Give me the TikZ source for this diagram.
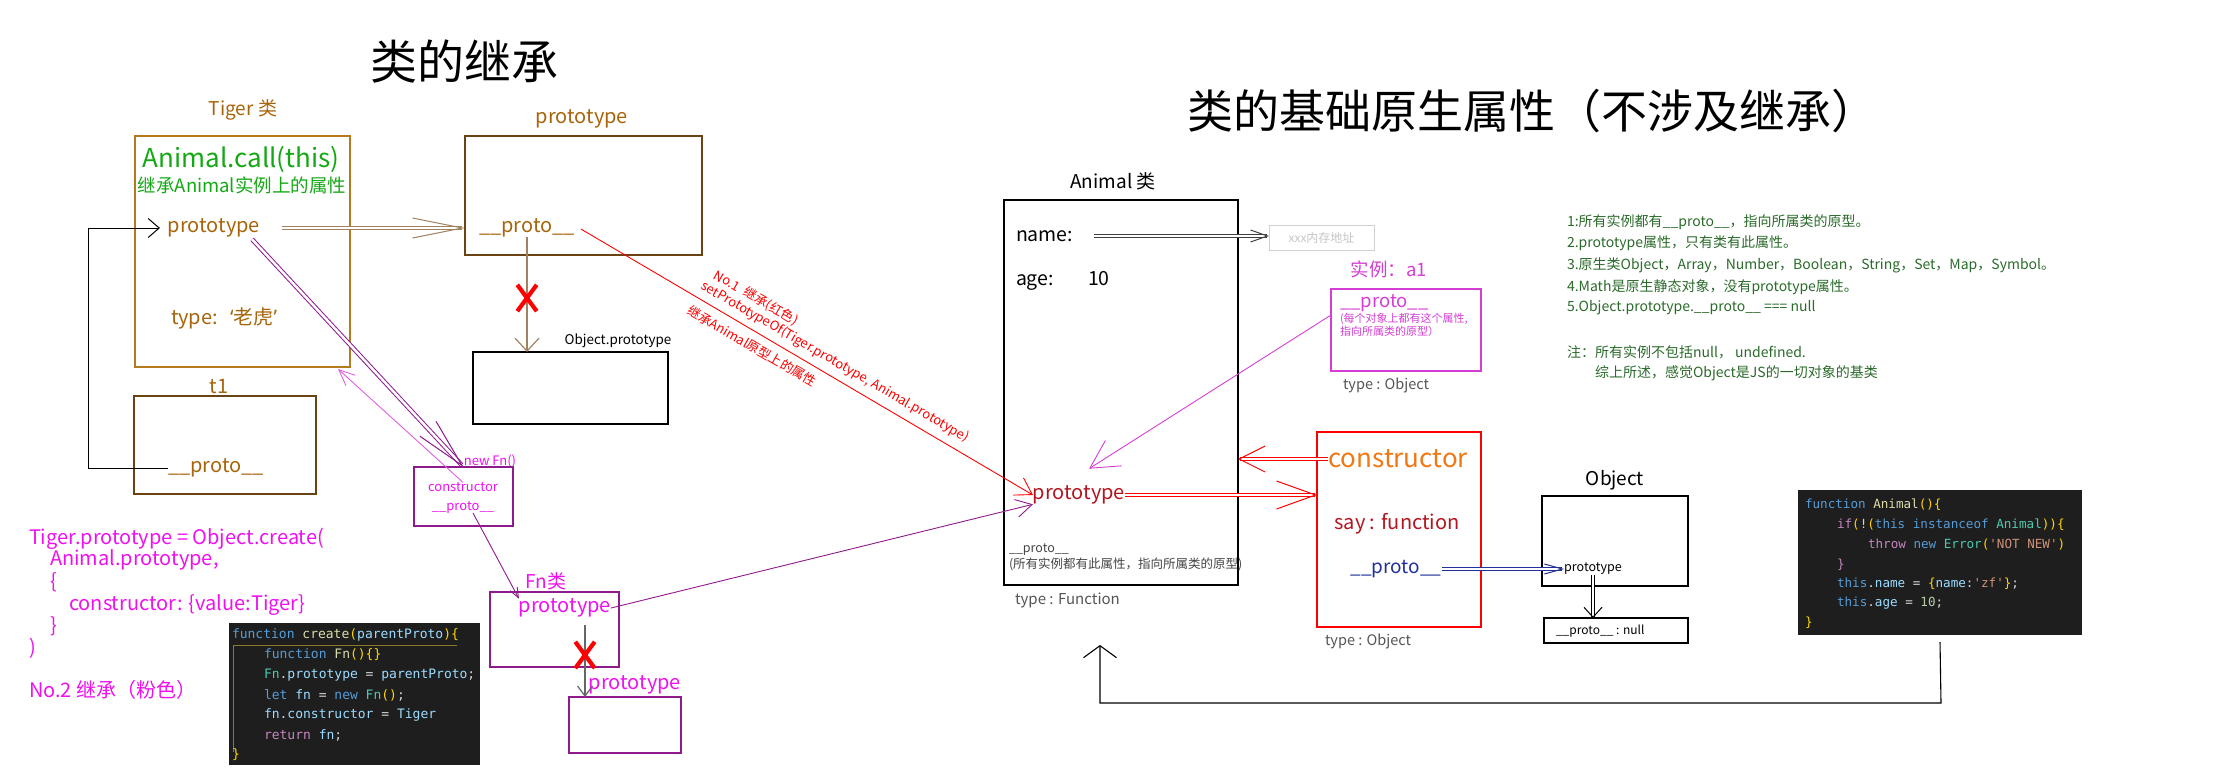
\documentclass[tikz,border=0pt]{standalone}
\usepackage{fontspec}
\setmainfont{Noto Sans CJK SC}
\setmonofont{DejaVu Sans Mono}
\newfontfamily\westfont{Noto Sans}
\usetikzlibrary{arrows.meta,positioning,calc}

\newcommand{\pxsize}[1]{\fontsize{#1}{#1}\selectfont}

\definecolor{tigerbrown}{HTML}{A8640A}
\definecolor{tigerline}{HTML}{B57A1E}
\definecolor{darkbrown}{HTML}{6B4212}
\definecolor{arrowbrown}{HTML}{A08260}
\definecolor{callgreen}{HTML}{14A814}
\definecolor{pinkfn}{HTML}{EE11EE}
\definecolor{fnline}{HTML}{8E1A8E}
\definecolor{pinkline}{HTML}{E060E0}
\definecolor{a1pink}{HTML}{D43ED4}
\definecolor{protored}{HTML}{B4141E}
\definecolor{consorange}{HTML}{F07814}
\definecolor{protoblue}{HTML}{22309C}
\definecolor{notegreen}{HTML}{2A6A2A}
\definecolor{typegray}{HTML}{555555}
\definecolor{notegray}{HTML}{444444}
\definecolor{addrgray}{HTML}{D0D0D0}
\definecolor{addrtext}{HTML}{C4C4C4}
\definecolor{namegray}{HTML}{404040}
\definecolor{stemgray}{HTML}{666666}
\definecolor{codebg}{HTML}{1E1E1E}
\definecolor{codeplain}{HTML}{D4D4D4}
\definecolor{kwblue}{HTML}{569CD6}
\definecolor{fnyellow}{HTML}{DCDCAA}
\definecolor{brgold}{HTML}{FFD700}
\definecolor{varblue}{HTML}{9CDCFE}
\definecolor{typeteal}{HTML}{4EC9B0}
\definecolor{kwpurple}{HTML}{C586C0}
\definecolor{numgreen}{HTML}{B5CEA8}
\definecolor{strorange}{HTML}{CE9178}
\definecolor{guidegold}{HTML}{8A7A2A}

\newcommand{\ckw}[1]{\textcolor{kwblue}{#1}}
\newcommand{\cfn}[1]{\textcolor{fnyellow}{#1}}
\newcommand{\cbr}[1]{\textcolor{brgold}{#1}}
\newcommand{\cvar}[1]{\textcolor{varblue}{#1}}
\newcommand{\cty}[1]{\textcolor{typeteal}{#1}}
\newcommand{\cpu}[1]{\textcolor{kwpurple}{#1}}
\newcommand{\cnum}[1]{\textcolor{numgreen}{#1}}
\newcommand{\cstr}[1]{\textcolor{strorange}{#1}}

\tikzset{
  box/.style={draw, anchor=north west, inner sep=0pt, outer sep=0pt, line width=1.1pt},
  txt/.style={inner sep=0pt, outer sep=0pt, font=\pxsize{20}},
  notetxt/.style={txt, anchor=west, text=notegreen, font=\pxsize{14}},
  codeline/.style={txt, anchor=west, text=codeplain, font=\ttfamily\pxsize{13}},
  redtxt/.style={txt, text=red, font=\pxsize{13}, rotate=-30},
  bigx/.style={inner sep=0pt, minimum width=19pt, minimum height=26pt},
  xstroke/.style={red, line width=4.2pt},
  dbl/.style={double, double distance=2.5pt, line width=1pt},
  barb/.style 2 args={-{Straight Barb[length=#1, width=#2]}},
}

\begin{document}
\begin{tikzpicture}[x=1pt,y=-1pt]
\useasboundingbox (0,0) rectangle (2216,768);

% titles
\node[txt, font=\pxsize{47}] (title1) at (464,62) {类的继承};
\node[txt, font=\pxsize{46}] (title2) at (1532,111) {类的基础原生属性（不涉及继承）};

% Tiger class and t1
\node[txt, text=tigerbrown, font=\pxsize{19}] (tigerlbl) at (243,110) {Tiger 类};
\node[box, draw=tigerline, minimum width=215pt, minimum height=231pt] (tiger) at (135,136) {};
\node[txt, text=callgreen, font=\pxsize{26}] (call) at (241,159) {Animal.call(this)};
\node[txt, text=callgreen, font=\pxsize{18.5}] (callnote) at (242,185) {继承Animal实例上的属性};
\node[txt, text=tigerbrown] (tproto) at (214,228) {prototype};
\node[txt, text=tigerbrown] (ttype) at (224,318) {type:\hspace{12pt}{\westfont ‘}老虎{\westfont ’}};
\node[txt, text=tigerbrown] (t1lbl) at (219,386) {t1};
\node[box, draw=darkbrown, minimum width=182pt, minimum height=98pt] (t1) at (134,396) {};
\node[txt, text=tigerbrown] (t1proto) at (216,468) {\_\_proto\_\_};

% Tiger.prototype
\node[txt, text=tigerbrown] (protolbl) at (582,119) {prototype};
\node[box, draw=darkbrown, minimum width=237pt, minimum height=119pt] (proto) at (465,136) {};
\node[txt, text=tigerbrown] (pproto) at (527,228) {\_\_proto\_\_};
\node[txt, font=\pxsize{13.4}] (objplbl) at (618,341) {Object.prototype};
\node[box, minimum width=195pt, minimum height=72pt] (objp) at (473,352) {};

% new Fn() and Fn
\node[txt, text=pinkfn, font=\pxsize{13}] (newfnlbl) at (490,461) {new Fn()};
\node[box, draw=fnline, minimum width=99pt, minimum height=59pt] (newfn) at (414,467) {};
\node[txt, text=pinkfn, font=\pxsize{13}] (cons) at (463,487) {constructor};
\node[txt, text=pinkfn, font=\pxsize{13}] (nproto) at (463,507) {\_\_proto\_\_};
\node[txt, text=pinkfn, font=\pxsize{19}] (fnlbl) at (546,581) {Fn类};
\node[box, draw=fnline, minimum width=129pt, minimum height=75pt] (fn) at (490,592) {};
\node[txt, text=pinkfn] (fproto) at (565,608) {prototype};
\node[txt, text=pinkfn] (lowlbl) at (635,685) {prototype};
\node[box, draw=fnline, minimum width=112pt, minimum height=56pt] (low) at (569,697) {};
\coordinate (fnstem) at (585,625);

% Object.create text
\node[txt, anchor=west, text=pinkfn] (cr1) at (29,539) {Tiger.prototype = Object.create(};
\node[txt, anchor=west, text=pinkfn] (cr2) at (50,560) {Animal.prototype,};
\node[txt, anchor=west, text=pinkfn] (cr3) at (50,582) {\{};
\node[txt, anchor=west, text=pinkfn] (cr4) at (69,605) {constructor: \{value:Tiger\}};
\node[txt, anchor=west, text=pinkfn] (cr5) at (50,626) {\}};
\node[txt, anchor=west, text=pinkfn] (cr6) at (29,648) {)};
\node[txt, anchor=west, text=pinkfn] (no2) at (29,690) {No.2 继承（粉色）};

% create() code
\node[box, draw=none, fill=codebg, minimum width=251pt, minimum height=142pt] (codeleft) at (229,623) {};
\draw[guidegold, line width=0.8pt] (233,752) -- (233,645) -- (457,645);
\node[codeline] (cl1) at (232,635) {\ckw{function} \cfn{create}\cbr{(}\cvar{parentProto}\cbr{)\{}};
\node[codeline] (cl2) at (264,655) {\ckw{function} \cfn{Fn}\cbr{()\{\}}};
\node[codeline] (cl3) at (264,675) {\cty{Fn}.\cvar{prototype} = \cvar{parentProto};};
\node[codeline] (cl4) at (264,695) {\ckw{let} \cvar{fn} = \ckw{new} \cty{Fn}\cbr{()};};
\node[codeline] (cl5) at (264,715) {\cvar{fn}.\cvar{constructor} = \cvar{Tiger}};
\node[codeline] (cl6) at (264,735) {\cpu{return} \cvar{fn};};
\node[codeline] (cl7) at (232,755) {\cbr{\}}};

% red No.1 text
\node[redtxt] (no1) at (756,298) {No.1\ \ 继承(红色)};
\node[redtxt] (setp) at (835,362) {setPrototypeOf(Tiger.prototype, Animal.prototype)};
\node[redtxt] (no1note) at (752,346) {继承Animal原型上的属性};

% Animal class
\node[txt, font=\pxsize{19}] (animallbl) at (1113,181) {Animal 类};
\node[box, minimum width=234pt, minimum height=385pt] (animal) at (1004,200) {};
\node[txt, anchor=west, font=\pxsize{19.5}] (name) at (1016,236) {name:};
\node[box, draw=addrgray, line width=0.8pt, minimum width=105pt, minimum height=25pt] (addr) at (1269,225) {};
\node[txt, text=addrtext, font=\pxsize{12}] (addrtxt) at (addr.center) {xxx内存地址};
\node[txt, anchor=base west, font=\pxsize{19.5}] (age) at (1016,285) {age:};
\node[txt, anchor=base west, font=\pxsize{19.5}] (agev) at (1088,285) {10};
\node[txt, text=protored] (aproto) at (1079,495) {prototype};
\node[txt, anchor=west, text=notegray, font=\pxsize{12.5}] (anote1) at (1009,550) {\_\_proto\_\_};
\node[txt, anchor=west, text=notegray, font=\pxsize{12.5}] (anote2) at (1009,564) {(所有实例都有此属性，指向所属类的原型)};
\node[txt, anchor=west, text=typegray, font=\pxsize{15}] (atype) at (1015,600) {type : Function};

% instance a1
\node[txt, text=a1pink, font=\pxsize{18.5}] (a1lbl) at (1389,269) {实例：a1};
\node[box, draw=a1pink, minimum width=150pt, minimum height=82pt] (a1) at (1331,289) {};
\node[txt, anchor=west, text=a1pink, font=\pxsize{18.5}] (a1proto) at (1340,303) {\_\_proto\_\_};
\node[txt, anchor=west, text=a1pink, font=\pxsize{11}] (a1note1) at (1340,318.5) {(每个对象上都有这个属性,};
\node[txt, anchor=west, text=a1pink, font=\pxsize{11}] (a1note2) at (1340,331.5) {指向所属类的原型）};
\node[txt, anchor=west, text=typegray, font=\pxsize{14.5}] (a1type) at (1343,385) {type : Object};

% Animal.prototype
\node[box, draw=red, minimum width=164pt, minimum height=195pt] (consbox) at (1317,432) {};
\node[txt, text=consorange, font=\pxsize{26}] (constxt) at (1398,459) {constructor};
\node[txt, text=protored] (say) at (1397,524) {say : function};
\node[txt, text=protoblue, font=\pxsize{19}] (cproto) at (1396,569) {\_\_proto\_\_};
\node[txt, anchor=west, text=typegray, font=\pxsize{14.5}] (ctype) at (1325,641) {type : Object};

% Object
\node[txt, font=\pxsize{19}] (objlbl) at (1615,480) {Object};
\node[box, minimum width=146pt, minimum height=90pt] (obj) at (1542,496) {};
\node[txt, font=\pxsize{12.5}] (oproto) at (1593,569) {prototype};
\node[box, minimum width=144pt, minimum height=25pt] (nullbox) at (1544,618) {};
\node[txt, anchor=west, font=\pxsize{12}] (nulltxt) at (1556,631) {\_\_proto\_\_ : null};

% Animal() code
\node[box, draw=none, fill=codebg, minimum width=284pt, minimum height=145pt] (coderight) at (1798,490) {};
\node[codeline, font=\ttfamily\pxsize{12.6}] (ar1) at (1805,505) {\ckw{function} \cfn{Animal}\cbr{()\{}};
\node[codeline, font=\ttfamily\pxsize{12.6}] (ar2) at (1837,525) {\cpu{if}\cbr{(}!\cbr{(}\ckw{this} \ckw{instanceof} \cty{Animal}\cbr{))\{}};
\node[codeline, font=\ttfamily\pxsize{12.6}] (ar3) at (1868,545) {\cpu{throw} \ckw{new} \cty{Error}\cbr{(}\cstr{'NOT NEW'}\cbr{)}};
\node[codeline, font=\ttfamily\pxsize{12.6}] (ar4) at (1837,565) {\cpu{\}}};
\node[codeline, font=\ttfamily\pxsize{12.6}] (ar5) at (1837,584) {\ckw{this}.\cvar{name} = \cbr{\{}\cvar{name}:\cstr{'zf'}\cbr{\}};};
\node[codeline, font=\ttfamily\pxsize{12.6}] (ar6) at (1837,603) {\ckw{this}.\cvar{age} = \cnum{10};};
\node[codeline, font=\ttfamily\pxsize{12.6}] (ar7) at (1805,623) {\cbr{\}}};

% notes
\node[notetxt] (n1) at (1567,222) {1:所有实例都有\_\_proto\_\_，指向所属类的原型。};
\node[notetxt] (n2) at (1567,243) {2.prototype属性，只有类有此属性。};
\node[notetxt] (n3) at (1567,265) {3.原生类Object，Array，Number，Boolean，String，Set，Map，Symbol。};
\node[notetxt] (n4) at (1567,287) {4.Math是原生静态对象，没有prototype属性。};
\node[notetxt] (n5) at (1567,308) {5.Object.prototype.\_\_proto\_\_ === null};
\node[notetxt] (n6) at (1567,352) {注：所有实例不包括null， undefined.};
\node[notetxt] (n7) at (1595,373) {综上所述，感觉Object是JS的一切对象的基类};

% connectors
\coordinate (loopx) at (88,0);
\draw[line width=1pt, barb={11pt}{19pt}, shorten >=8pt] (t1proto.west) -- (t1proto.west -| loopx) |- (tproto.west);
\draw[dbl, arrowbrown, barb={50pt}{20pt}, shorten <=22pt] (tproto.east) -- (tproto.east -| proto.west);
\draw[dbl, fnline, barb={50pt}{22pt}] ($(tproto.south east)+(-8,2)$) -- (newfn.north);
\draw[pinkline, line width=0.9pt, barb={16pt}{14pt}] (cons.north) -- ($(tiger.south east)+(-12,2)$);
\draw[fnline, line width=0.9pt, barb={10pt}{8pt}] ($(nproto.south)+(10,0)$) -- (fproto.north west);
\draw[fnline, line width=0.9pt, barb={16pt}{18pt}] (fproto.east) -- (aproto.south west);
\draw[red, line width=0.9pt, barb={16pt}{20pt}] ($(pproto.east)+(6,1)$) -- (aproto.west);
\draw[arrowbrown, line width=1.2pt, barb={13pt}{24pt}] (pproto.south) -- (pproto.south |- objp.north);
\node[bigx] (x1) at (527,298) {};
\draw[xstroke] (x1.north west) -- (x1.south east) (x1.north east) -- (x1.south west);
\draw[stemgray, line width=1.2pt, barb={10pt}{15pt}] (fnstem) -- (fnstem |- low.north);
\node[bigx] (x2) at (585,655) {};
\draw[xstroke] (x2.north west) -- (x2.south east) (x2.north east) -- (x2.south west);

\draw[dbl, namegray, barb={17pt}{12pt}, shorten <=21pt] (name.east) -- (name.east -| addr.west);
\draw[a1pink, line width=0.9pt, barb={28pt}{30pt}] ($(a1.north west)+(0,26)$) -- ($(aproto.north)+(10,-17)$);
\draw[dbl, red, barb={39pt}{28pt}] (aproto.east) -- (aproto.east -| consbox.west);
\draw[dbl, red, barb={26pt}{26pt}] (constxt.west) -- (constxt.west -| animal.east);
\draw[dbl, protoblue, barb={18pt}{10pt}] (cproto.east) -- (oproto.west);
\draw[dbl, barb={10pt}{18pt}] (oproto.south) -- (oproto.south |- nullbox.north);

\coordinate (loopr) at (1941,703);
\coordinate (looptip) at (1100,645);
\draw[line width=1.1pt, barb={12pt}{33pt}] ($(coderight.south)+(0,7)$) -- (loopr) -- (loopr -| looptip) -- (looptip);
\end{tikzpicture}
\end{document}
